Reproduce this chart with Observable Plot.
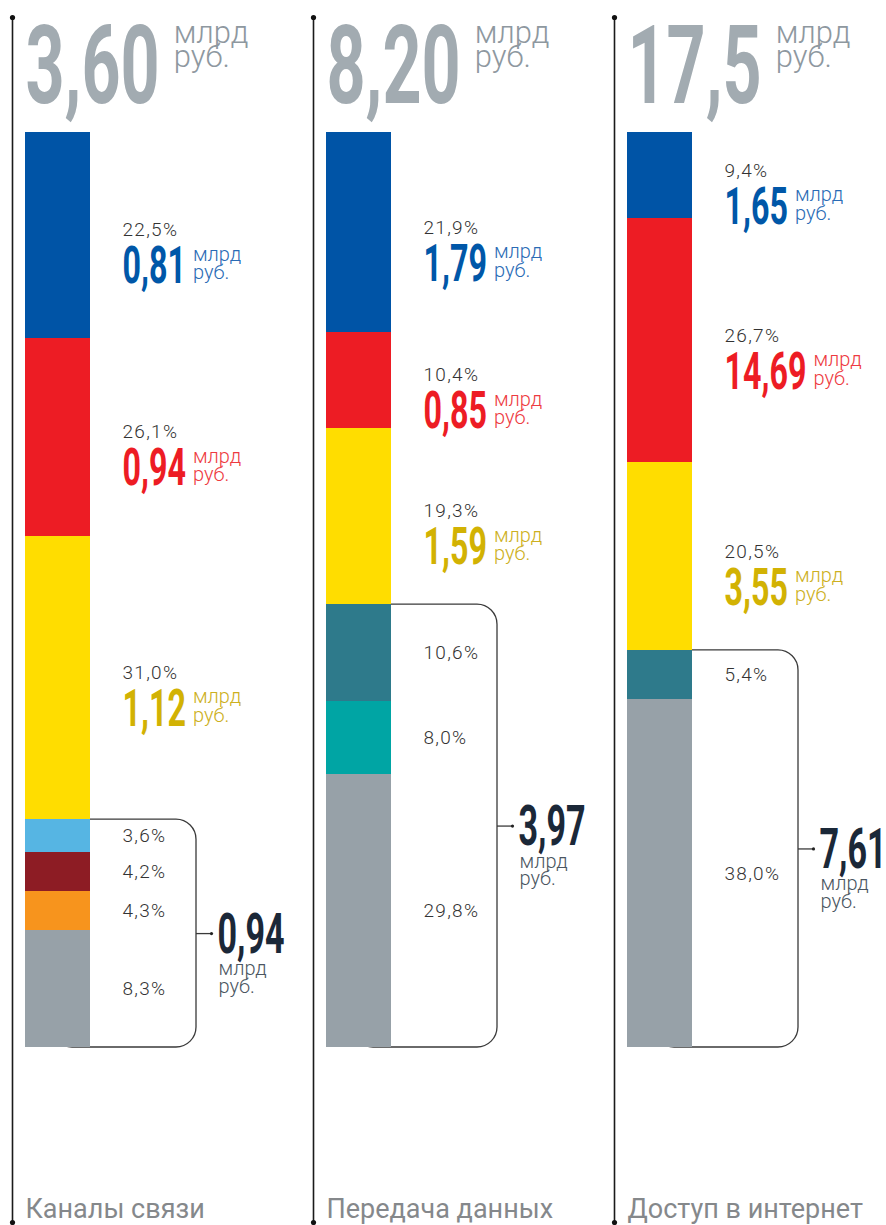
<!DOCTYPE html>
<html>
<head>
<meta charset="utf-8">
<script src="https://cdn.jsdelivr.net/npm/d3@7"></script>
<script src="https://cdn.jsdelivr.net/npm/@observablehq/plot@0.6"></script>
<style>
  html, body { margin: 0; padding: 0; background: #fff; }
  svg { display: block; }
  g[aria-description="pct"] text { letter-spacing: 1.3px; }
</style>
</head>
<body>
<script>
// ---------------- DATA ----------------
const columns = ["Каналы связи", "Передача данных", "Доступ в интернет"];
const columnTotals = ["3,60", "8,20", "17,5"];          // млрд руб.
const otherTotals = ["0,94", "3,97", "7,61"];           // млрд руб. (bracketed group)

// segments, top to bottom, per column
const segColumn = [0, 0, 0, 0, 0, 0, 0,  1, 1, 1, 1, 1, 1,  2, 2, 2, 2, 2];
const segKind = ["k1", "k2", "k3", "k4", "k5", "k6", "rest",
                 "k1", "k2", "k3", "k7", "k8", "rest",
                 "k1", "k2", "k3", "k7", "rest"];
// bar share as drawn (%)
const segShare = [22.5, 21.6, 31.0, 3.6, 4.2, 4.3, 12.8,
                  21.9, 10.4, 19.3, 10.6, 8.0, 29.8,
                  9.4, 26.7, 20.5, 5.4, 38.0];
// printed percentage labels
const segPercent = ["22,5%", "26,1%", "31,0%", "3,6%", "4,2%", "4,3%", "8,3%",
                    "21,9%", "10,4%", "19,3%", "10,6%", "8,0%", "29,8%",
                    "9,4%", "26,7%", "20,5%", "5,4%", "38,0%"];
// printed amounts, млрд руб. (empty = part of bracketed group)
const segAmount = ["0,81", "0,94", "1,12", "", "", "", "",
                   "1,79", "0,85", "1,59", "", "", "",
                   "1,65", "14,69", "3,55", "", ""];
const unitLabel = "млрд\nруб.";

// ---------------- STYLE ----------------
const barColor = {k1: "#0054a6", k2: "#ed1c24", k3: "#ffdd00", k4: "#56b5e3", k5: "#8d1c24",
                  k6: "#f7941d", k7: "#2e7a8b", k8: "#00a5a4", rest: "#97a1a8"};
const valueColor = {k1: "#0057a8", k2: "#ed1c24", k3: "#d2b203"};
const unitColor = {k1: "#2a6bb5", k2: "#ee3a41", k3: "#cdb021"};
const FONT = "Roboto";
const CONDENSE = 0.62;

// layout inside each column (column width 301)
const L = {barX1: 13, barX2: 78, labelX: 110, bracketL: 40, bracketR: 184, tickR: 199,
           groupX: 205, titleX: 13};

// ---------------- DERIVED TABLES ----------------
const segs = [];
const cum = columns.map(() => 0);
segShare.forEach((v, i) => {
  const c = segColumn[i];
  const y1 = cum[c], y2 = cum[c] + v;
  cum[c] = y2;
  segs.push({column: columns[c], kind: segKind[i], y1, y2, mid: (y1 + y2) / 2,
             pct: segPercent[i], amount: segAmount[i], main: segAmount[i] !== ""});
});
const mainSegs = segs.filter(d => d.main);
const otherSegs = segs.filter(d => !d.main);
const groups = columns.map((col, c) => {
  const s = otherSegs.filter(d => d.column === col);
  const y1 = d3.min(s, d => d.y1), y2 = d3.max(s, d => d.y2);
  return {column: col, y1, y2, mid: (y1 + y2) / 2, amount: otherTotals[c]};
});

const ctx = document.createElement("canvas").getContext("2d");
function textWidth(str, size, weight) {
  ctx.font = `${weight} ${size}px ${FONT}`;
  return ctx.measureText(str).width;
}

// ---------------- PLOT ----------------
const chart = Plot.plot({
  width: 886,
  height: 1225,
  marginLeft: 12, marginRight: -29, marginTop: 0, marginBottom: 0,
  fx: {domain: columns, padding: 0, axis: null},
  x: {domain: [0, 301], axis: null},
  y: {domain: [0, 100], range: [132, 1047], axis: null},
  color: {type: "identity"},
  style: {fontFamily: FONT, background: "white"},
  marks: [
    // column lines with end dots
    Plot.ruleX(columns, {fx: d => d, x: 0, stroke: "#1a1a1a", strokeWidth: 1.6, insetTop: 17, insetBottom: 3}),
    Plot.dot(columns, {fx: d => d, x: 0, frameAnchor: "top", dy: 17, r: 2.6, fill: "#111", stroke: "none"}),
    Plot.dot(columns, {fx: d => d, x: 0, frameAnchor: "bottom", dy: -3, r: 2.6, fill: "#111", stroke: "none"}),
    // titles
    Plot.text(columns, {fx: d => d, x: L.titleX, text: (d, i) => columnTotals[i], frameAnchor: "top", dy: 102,
      lineAnchor: "bottom", textAnchor: "start", fontSize: 110, fontWeight: 700, fill: "#a2abb1", ariaDescription: "condensed"}),
    Plot.text(columns, {fx: d => d, x: (d, i) => L.titleX + textWidth(columnTotals[i], 110, 700) * CONDENSE + 14,
      text: () => unitLabel, frameAnchor: "top", dy: 25, lineAnchor: "top", textAnchor: "start",
      fontSize: 31, fontWeight: 300, lineHeight: 0.78, fill: "#8e989f"}),
    // bracket
    Plot.rect(groups, {fx: "column", x1: L.bracketL, x2: L.bracketR, y1: "y1", y2: "y2",
      fill: "none", stroke: "#3a3a3a", strokeWidth: 1.3, rx: 20}),
    Plot.ruleY(groups, {fx: "column", y: "mid", x1: L.bracketR, x2: L.tickR, stroke: "#3a3a3a", strokeWidth: 1.3}),
    Plot.dot(groups, {fx: "column", x: L.tickR, y: "mid", r: 1.6, fill: "#222", stroke: "none"}),
    // stacked bars
    Plot.rect(segs, {fx: "column", x1: L.barX1, x2: L.barX2, y1: "y1", y2: "y2", fill: d => barColor[d.kind],
      shapeRendering: "crispEdges"}),
    // main segment labels
    Plot.text(mainSegs, {fx: "column", x: L.labelX, y: "mid", dy: 1, lineAnchor: "bottom", textAnchor: "start",
      text: "pct", fontSize: 19, fontWeight: 300, fill: "#333", ariaDescription: "pct"}),
    Plot.text(mainSegs, {fx: "column", x: L.labelX, y: "mid", dy: 48, lineAnchor: "bottom", textAnchor: "start",
      text: "amount", fontSize: 52, fontWeight: 700, fill: d => valueColor[d.kind], ariaDescription: "condensed"}),
    Plot.text(mainSegs, {fx: "column", x: d => L.labelX + textWidth(d.amount, 52, 700) * CONDENSE + 7,
      y: "mid", dy: 44, lineAnchor: "bottom", textAnchor: "start", text: () => unitLabel,
      fontSize: 20, fontWeight: 300, lineHeight: 0.92, fill: d => unitColor[d.kind]}),
    // other segments labels
    Plot.text(otherSegs, {fx: "column", x: L.labelX, y: "mid", lineAnchor: "middle", textAnchor: "start",
      text: "pct", fontSize: 19, fontWeight: 300, fill: "#333", ariaDescription: "pct"}),
    // group totals
    Plot.text(groups, {fx: "column", x: L.groupX, y: "mid", dy: 19, lineAnchor: "bottom", textAnchor: "start",
      text: "amount", fontSize: 55, fontWeight: 700, fill: "#1b2838", ariaDescription: "condensed"}),
    Plot.text(groups, {fx: "column", x: L.groupX + 1, y: "mid", dy: 29, lineAnchor: "top", textAnchor: "start",
      text: () => unitLabel, fontSize: 20, fontWeight: 300, lineHeight: 0.88, fill: "#4b5661"}),
    // category names
    Plot.text(columns, {fx: d => d, x: L.titleX, text: d => d, frameAnchor: "bottom", dy: -8, lineAnchor: "bottom",
      textAnchor: "start", fontSize: 27, fontWeight: 400, fill: "#85888b"})
  ]
});

document.body.appendChild(chart);

// condense the big numeric labels horizontally
d3.select(chart).selectAll('g[aria-description="condensed"] text').each(function () {
  const x = +this.getAttribute("x") || 0, y = +this.getAttribute("y") || 0;
  const t = this.getAttribute("transform") || "";
  this.removeAttribute("x"); this.removeAttribute("y");
  this.setAttribute("transform", `${t} translate(${x},${y}) scale(${CONDENSE},1)`);
});
</script>
</body>
</html>
